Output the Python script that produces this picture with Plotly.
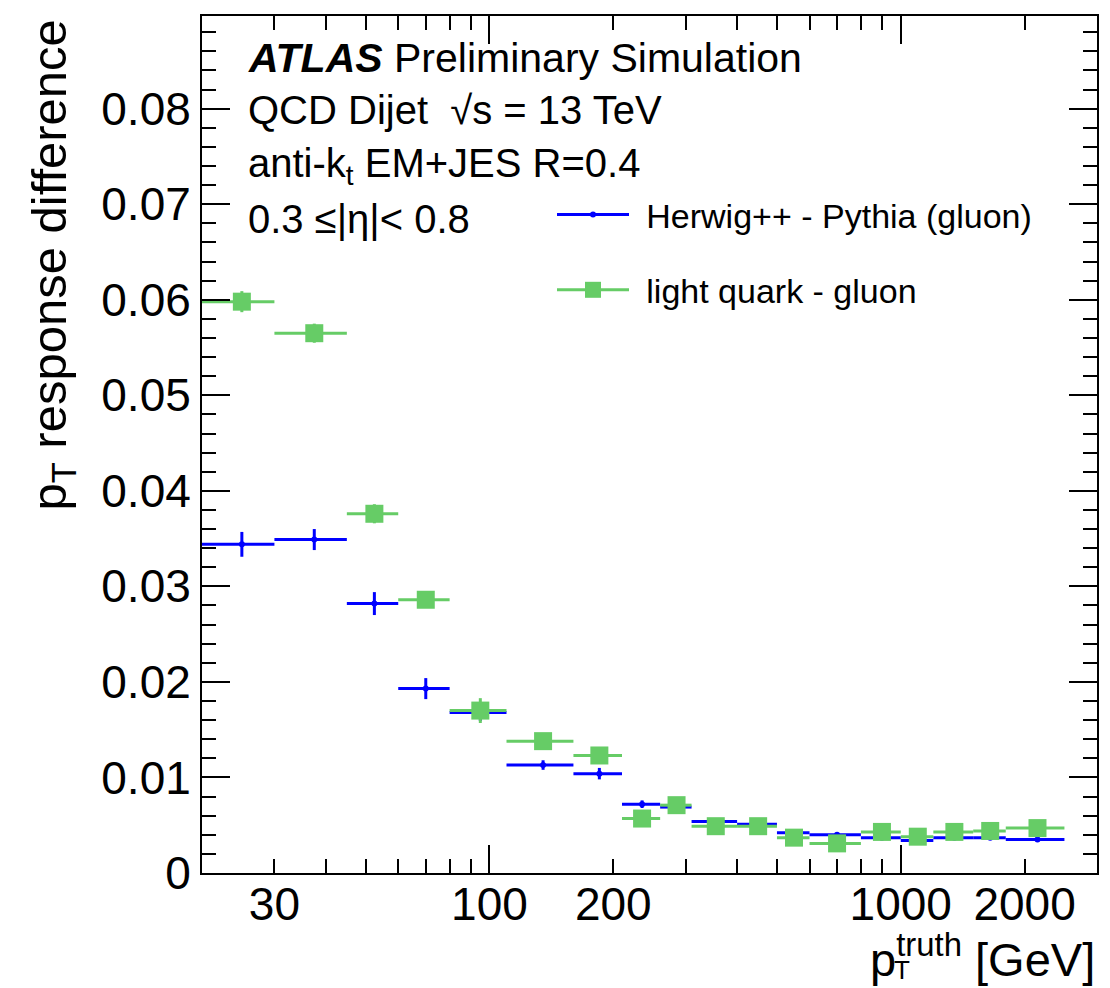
import math
import plotly.graph_objects as go

# Jet pT bins [GeV]
bin_edges = [20, 30, 45, 60, 80, 110, 160, 210, 260, 310, 400, 500, 600,
             800, 1000, 1200, 1500, 1800, 2500]

# Herwig++ - Pythia (gluon) response difference
herwig_pythia = [0.0344, 0.0349, 0.0282, 0.0193, 0.0168, 0.0113, 0.0104, 0.0072,
                 0.0069, 0.0054, 0.0051, 0.0042, 0.0040, 0.0037, 0.0034, 0.0037,
                 0.0037, 0.0035]
herwig_pythia_err = [0.0013, 0.0011, 0.0012, 0.0011, 0.0009, 0.0005, 0.0006, 0.0004,
                     0.0003, 0.0002, 0.0002, 0.0002, 0.0002, 0.0002, 0.0002, 0.0002,
                     0.0002, 0.0002]

# light quark - gluon response difference
quark_gluon = [0.0598, 0.0565, 0.0376, 0.0286, 0.0170, 0.0138, 0.0123, 0.0057,
               0.0071, 0.0049, 0.0049, 0.0037, 0.0031, 0.0043, 0.0038, 0.0043,
               0.0044, 0.0047]
quark_gluon_err = [0.0011, 0.0010, 0.0010, 0.0008, 0.0013, 0.0006, 0.0006, 0.0005,
                   0.0004, 0.0003, 0.0003, 0.0003, 0.0003, 0.0003, 0.0003, 0.0003,
                   0.0003, 0.0003]

x_tick_values = [30, 100, 200, 1000, 2000]
x_tick_labels = ["30", "100", "200", "1000", "2000"]

BLUE = "#0000ff"
GREEN = "#66cc66"
FONT = "Liberation Sans, Arial, Helvetica, sans-serif"

centers = [(lo + hi) / 2 for lo, hi in zip(bin_edges[:-1], bin_edges[1:])]
half_widths = [(hi - lo) / 2 for lo, hi in zip(bin_edges[:-1], bin_edges[1:])]

W, H = 1110, 988
ML, MR, MT, MB = 202, 13, 16, 115
PW, PH = W - ML - MR, H - MT - MB


def px_x(p):
    return (p - ML) / PW


def px_y(p):
    return 1 - (p - MT) / PH


fig = go.Figure()

fig.add_trace(go.Scatter(
    x=centers, y=herwig_pythia, mode="markers",
    marker=dict(symbol="circle", size=6, color=BLUE),
    error_x=dict(type="data", array=half_widths, color=BLUE, thickness=3, width=0),
    error_y=dict(type="data", array=herwig_pythia_err, color=BLUE, thickness=3, width=0),
    showlegend=False, hoverinfo="x+y",
))
fig.add_trace(go.Scatter(
    x=centers, y=quark_gluon, mode="markers",
    marker=dict(symbol="square", size=18, color=GREEN),
    error_x=dict(type="data", array=half_widths, color=GREEN, thickness=3, width=0),
    error_y=dict(type="data", array=quark_gluon_err, color=GREEN, thickness=3, width=0),
    showlegend=False, hoverinfo="x+y",
))

# legend entries (line + marker keys)
fig.add_trace(go.Scatter(
    x=[None], y=[None], mode="lines+markers",
    name="\u00a0\u200aHerwig++ - Pythia (gluon)",
    line=dict(color=BLUE, width=3), marker=dict(symbol="circle", size=6, color=BLUE),
    legendgroup="a",
))
fig.add_trace(go.Scatter(
    x=[None], y=[None], mode="lines+markers",
    name="\u00a0\u200alight quark - gluon",
    line=dict(color=GREEN, width=3), marker=dict(symbol="square", size=18, color=GREEN),
    legendgroup="b",
))

# carrier for the label axis
fig.add_trace(go.Scatter(x=[None], y=[None], xaxis="x2", yaxis="y",
                         showlegend=False, hoverinfo="skip"))

x_range = [math.log10(20), math.log10(3000)]
minor_x = [v * m for m in (10, 100, 1000) for v in range(2, 10)]
minor_x = [v for v in minor_x if 20 <= v <= 3000 and v not in (100, 1000)]

fig.update_layout(
    width=W, height=H,
    margin=dict(l=ML, r=MR, t=MT, b=MB, autoexpand=False),
    paper_bgcolor="white", plot_bgcolor="white",
    font=dict(family=FONT, color="black"),
    xaxis=dict(
        type="log", range=x_range, showgrid=False, zeroline=False,
        showline=True, linewidth=2, linecolor="black", mirror="ticks",
        tickvals=[100, 1000], ticks="inside", ticklen=28, tickwidth=2,
        tickcolor="black", showticklabels=False,
        minor=dict(tickvals=minor_x, ticks="inside", ticklen=14, tickwidth=2,
                   tickcolor="black", showgrid=False),
    ),
    xaxis2=dict(
        type="log", range=x_range, overlaying="x", anchor="y", side="bottom",
        showgrid=False, zeroline=False, showline=False, ticks="",
        tickvals=x_tick_values, ticktext=x_tick_labels,
        tickfont=dict(size=46, family=FONT, color="black"),
    ),
    yaxis=dict(
        range=[0, 0.0897], showgrid=False, zeroline=False,
        showline=True, linewidth=2, linecolor="black", mirror="ticks",
        tick0=0, dtick=0.01, ticks="inside", ticklen=28, tickwidth=2,
        tickcolor="black", tickfont=dict(size=46, family=FONT, color="black"),
        minor=dict(dtick=0.002, ticks="inside", ticklen=14, tickwidth=2,
                   tickcolor="black", showgrid=False),
    ),
    legend=dict(
        x=px_x(552), y=px_y(186), xanchor="left", yanchor="top",
        font=dict(size=34, family=FONT, color="black"),
        bgcolor="rgba(0,0,0,0)", traceorder="grouped", tracegroupgap=28,
        itemwidth=72,
    ),
    showlegend=True,
)

annotations = [
    dict(text="<b><i>ATLAS</i></b> Preliminary Simulation", x=px_x(246), y=px_y(58), size=41),
    dict(text="QCD Dijet  √s = 13 TeV", x=px_x(246), y=px_y(110), size=40),
    dict(text="anti-k<sub>t</sub> EM+JES R=0.4", x=px_x(246), y=px_y(166), size=40),
    dict(text="0.3 ≤|η|< 0.8", x=px_x(246), y=px_y(219), size=40),
]
for a in annotations:
    fig.add_annotation(
        text=a["text"], x=a["x"], y=a["y"], xref="paper", yref="paper",
        xanchor="left", yanchor="middle", showarrow=False,
        font=dict(size=a["size"], family=FONT, color="black"),
    )

# axis titles, placed at the far ends of the axes
fig.add_annotation(
    text="p<sub>T</sub> response difference", textangle=-90,
    x=px_x(52), y=px_y(18), xref="paper", yref="paper",
    xanchor="center", yanchor="top", showarrow=False,
    font=dict(size=49, family=FONT, color="black"),
)
fig.add_annotation(
    text="p<sup>truth</sup> [GeV]",
    x=1, y=px_y(956), xref="paper", yref="paper",
    xanchor="right", yanchor="middle", showarrow=False,
    font=dict(size=47, family=FONT, color="black"),
)
fig.add_annotation(
    text="T", x=px_x(902), y=px_y(970), xref="paper", yref="paper",
    xanchor="center", yanchor="middle", showarrow=False,
    font=dict(size=26, family=FONT, color="black"),
)

fig.write_html("out.html")
